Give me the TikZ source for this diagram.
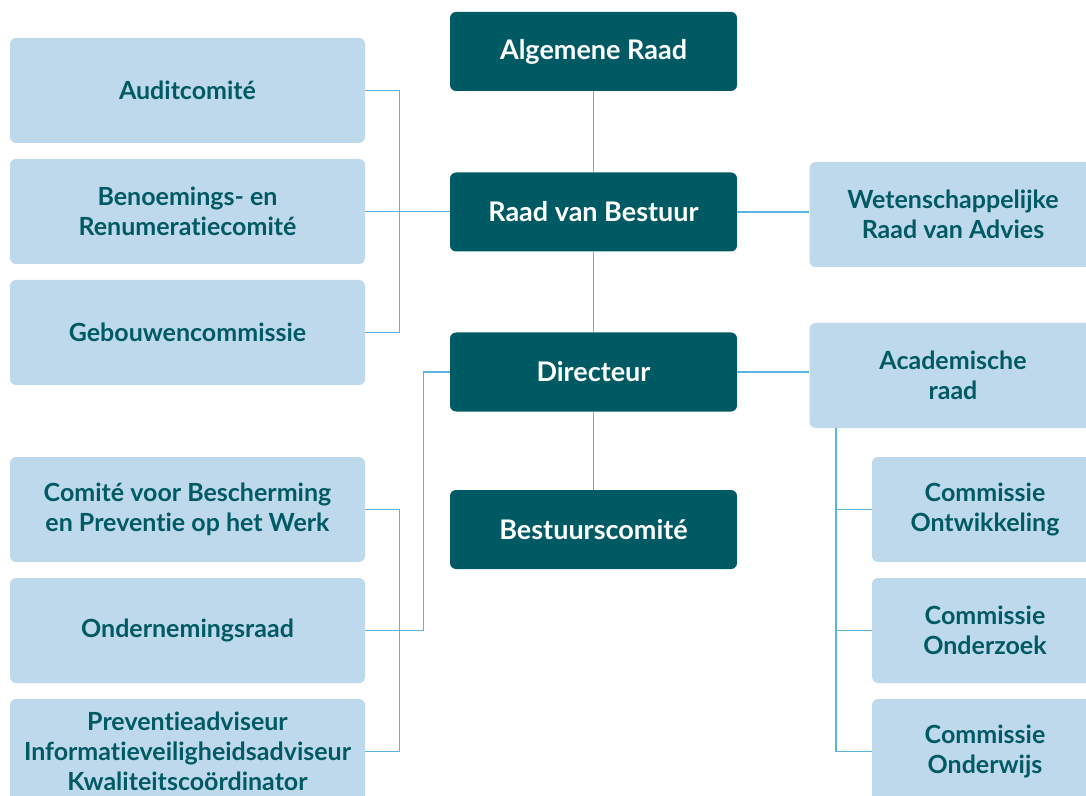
\documentclass[tikz,border=0pt]{standalone}
\usepackage{fontspec}
\setmainfont{Lato}[Ligatures={NoCommon}]
\usetikzlibrary{positioning}
\definecolor{teal}{HTML}{005A64}
\definecolor{pale}{HTML}{BFD9EC}
\definecolor{wire}{HTML}{5AB4E2}

\begin{document}
\begin{tikzpicture}[x=0.5pt, y=-0.5pt,
  board/.style={fill=teal, text=white, rounded corners=3pt, minimum width=143.5pt, minimum height=39.5pt, font=\fontsize{13.5}{15}\selectfont\bfseries, align=center},
  side/.style={fill=pale, text=teal, rounded corners=3pt, minimum width=177.5pt, minimum height=52.5pt, font=\fontsize{12.5}{15}\selectfont\bfseries, align=center},
  wide/.style={side, minimum width=143.5pt},
  cmt/.style={side, minimum width=113pt},
  conn/.style={wire, line width=0.8pt}]
\useasboundingbox (0,0) rectangle (1086,796);
\clip (0,0) rectangle (1086,796);

\node[board] (alg) at (593.5,51.5) {Algemene Raad};
\node[board] (rvb) at (593.5,212) {Raad van Bestuur};
\node[board] (dir) at (593.5,372) {Directeur};
\node[board] (bc) at (593.5,529.5) {Bestuurscomité};

\node[side] (audit) at (187.5,90.5) {Auditcomité};
\node[side] (benoem) at (187.5,211.5) {Benoemings- en\\Renumeratiecomité};
\node[side] (gebouw) at (187.5,332.5) {Gebouwencommissie};
\node[side] (cbpw) at (187.5,509.5) {Comité voor Bescherming\\en Preventie op het Werk};
\node[side] (ondr) at (187.5,630.5) {Ondernemingsraad};
\node[side] (prev) at (187.5,751.5) {Preventieadviseur\\Informatieveiligheidsadviseur\\Kwaliteitscoördinator};

\node[wide] (wet) at (953,214.5) {Wetenschappelijke\\Raad van Advies};
\node[wide] (acad) at (953,375.5) {Academische\\raad};
\node[cmt] (cont) at (985,509.5) {Commissie\\Ontwikkeling};
\node[cmt] (cond) at (985,630.5) {Commissie\\Onderzoek};
\node[cmt] (conw) at (985,751.5) {Commissie\\Onderwijs};

\coordinate (ab) at (836,0);

\draw[conn] (alg) -- (rvb);
\draw[conn] (rvb) -- (dir);
\draw[conn] (dir) -- (bc);

\draw[conn] (audit.east) -- ++(34,0) |- (gebouw.east);
\draw[conn] (benoem.east) -- (benoem.east -| rvb.west);
\draw[conn] (rvb.east) -- (rvb.east -| wet.west);

\draw[conn] (cbpw.east) -- ++(34,0) |- (prev.east);
\draw[conn] (ondr.east) -- ++(58,0) |- (dir.west);
\draw[conn] (dir.east) -- (dir.east -| acad.west);

\draw[conn] (ab |- acad.south) |- (conw.west);
\draw[conn] (cont.west) -- (cont.west -| ab);
\draw[conn] (cond.west) -- (cond.west -| ab);
\end{tikzpicture}
\end{document}
